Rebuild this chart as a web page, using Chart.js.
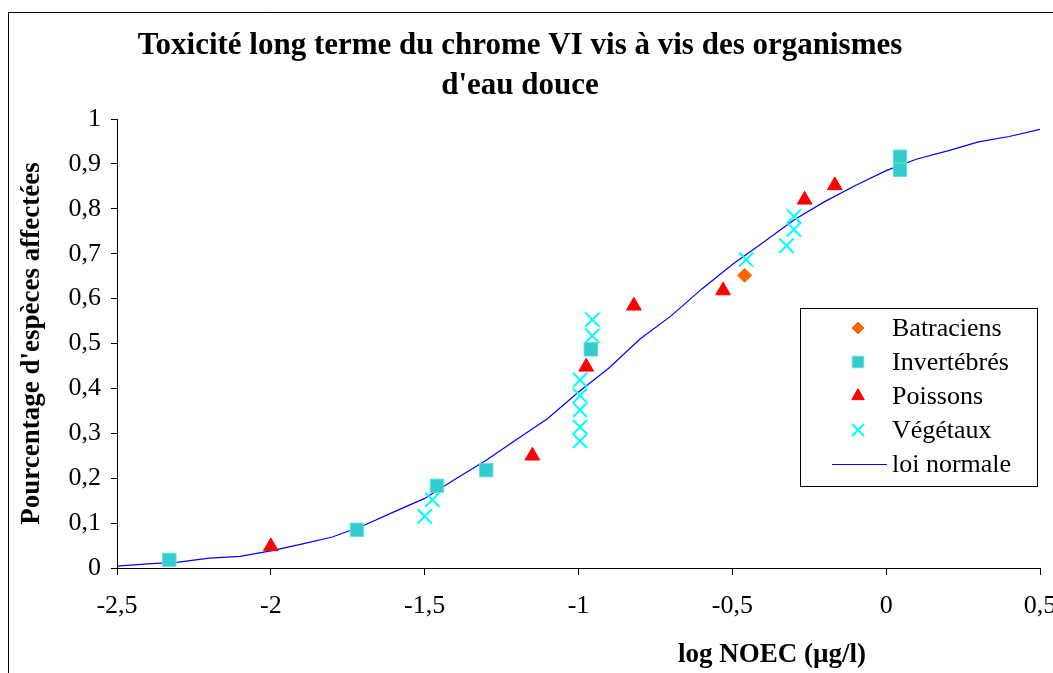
<!DOCTYPE html>
<html lang="fr">
<head>
<meta charset="utf-8">
<title>Toxicité long terme du chrome VI</title>
<script src="https://cdn.jsdelivr.net/npm/chart.js@4.4.1/dist/chart.umd.min.js"></script>
<style>
  html, body { margin: 0; padding: 0; background: #fff; }
  #wrap { width: 1053px; height: 673px; position: relative; }
</style>
</head>
<body>
<div id="wrap"><canvas id="chart"></canvas></div>
<script>
const SERIF = '"Liberation Serif", "Times New Roman", serif';

const xTickLabels = ['-2,5', '-2', '-1,5', '-1', '-0,5', '0', '0,5'];
const yTickLabels = ['0', '0,1', '0,2', '0,3', '0,4', '0,5', '0,6', '0,7', '0,8', '0,9', '1'];

const batraciensX = [-0.46];
const batraciensY = [0.652];

const invertebresX = [-2.33, -1.72, -1.46, -1.30, -0.96, 0.045, 0.045];
const invertebresY = [0.018, 0.085, 0.183, 0.218, 0.487, 0.916, 0.887];

const poissonsX = [-2.0, -1.15, -0.975, -0.82, -0.53, -0.265, -0.167];
const poissonsY = [0.048, 0.25, 0.448, 0.584, 0.618, 0.82, 0.852];

const vegetauxX = [-1.50, -1.475, -0.995, -0.995, -0.995, -0.995, -0.995, -0.955, -0.955, -0.455, -0.324, -0.30, -0.30];
const vegetauxY = [0.115, 0.152, 0.283, 0.314, 0.352, 0.384, 0.419, 0.517, 0.553, 0.687, 0.718, 0.754, 0.783];

const loiX = [-2.5, -2.4, -2.3, -2.2, -2.1, -2.0, -1.9, -1.8, -1.7, -1.6, -1.5, -1.4, -1.3, -1.2, -1.1, -1.0,
              -0.9, -0.8, -0.7, -0.6, -0.5, -0.4, -0.3, -0.2, -0.1, 0, 0.1, 0.2, 0.3, 0.4, 0.5];
const loiY = [0.004, 0.009, 0.013, 0.022, 0.026, 0.038, 0.053, 0.069, 0.094, 0.125, 0.155, 0.198, 0.240, 0.287, 0.333, 0.392,
              0.446, 0.510, 0.561, 0.621, 0.676, 0.725, 0.775, 0.816, 0.852, 0.885, 0.911, 0.929, 0.949, 0.961, 0.977];

function pts(xs, ys) {
  return xs.map((x, i) => ({ x: x, y: ys[i] }));
}

// white page + the Excel chart frame (cut on the right and bottom)
const framePlugin = {
  id: 'frame',
  beforeDraw(chart) {
    const ctx = chart.ctx;
    ctx.save();
    ctx.fillStyle = '#fff';
    ctx.fillRect(0, 0, chart.width, chart.height);
    ctx.strokeStyle = '#000';
    ctx.lineWidth = 1;
    ctx.beginPath();
    ctx.moveTo(8.5, chart.height);
    ctx.lineTo(8.5, 12.5);
    ctx.lineTo(chart.width, 12.5);
    ctx.stroke();
    ctx.restore();
  }
};

// x axis title sits right of centre in the original, so draw it by hand
const xTitlePlugin = {
  id: 'xTitle',
  afterDraw(chart) {
    const ctx = chart.ctx;
    const area = chart.chartArea;
    ctx.save();
    ctx.fillStyle = '#000';
    ctx.font = 'bold 27px ' + SERIF;
    ctx.textAlign = 'center';
    ctx.textBaseline = 'middle';
    ctx.fillText('log NOEC (µg/l)', area.left + 655, 655);
    ctx.restore();
  }
};

// boxed legend inside the plot, like Excel
const boxLegend = {
  id: 'boxLegend',
  afterDraw(chart) {
    const ctx = chart.ctx;
    const area = chart.chartArea;
    const left = area.right - 240;
    const top = area.top + 189;
    const w = 237, h = 178;
    ctx.save();
    ctx.fillStyle = '#fff';
    ctx.fillRect(left, top, w, h);
    ctx.strokeStyle = '#000';
    ctx.lineWidth = 1;
    ctx.strokeRect(left + 0.5, top + 0.5, w, h);

    ctx.font = '26px ' + SERIF;
    ctx.textBaseline = 'middle';
    chart.data.datasets.forEach((ds, i) => {
      const y = top + 20 + i * 34;
      ctx.fillStyle = ds.backgroundColor;
      ctx.strokeStyle = ds.borderColor;
      if (ds.showLine) {
        ctx.lineWidth = ds.borderWidth;
        ctx.beginPath();
        ctx.moveTo(left + 32, y + 0.5);
        ctx.lineTo(left + 87, y + 0.5);
        ctx.stroke();
      } else {
        ctx.lineWidth = ds.borderWidth;
        Chart.helpers.drawPoint(ctx, {
          pointStyle: ds.pointStyle,
          radius: ds.pointRadius * 0.85,
          rotation: 0,
          borderWidth: ds.borderWidth
        }, left + 58, y);
      }
      ctx.fillStyle = '#000';
      ctx.fillText(ds.label, left + 92, y + 1);
    });
    ctx.restore();
  }
};

const ctx = document.getElementById('chart').getContext('2d');
new Chart(ctx, {
  type: 'scatter',
  data: {
    datasets: [
      {
        label: 'Batraciens',
        data: pts(batraciensX, batraciensY),
        pointStyle: 'rectRot',
        pointRadius: 7,
        backgroundColor: '#FF6600',
        borderColor: '#FF6600',
        borderWidth: 1
      },
      {
        label: 'Invertébrés',
        data: pts(invertebresX, invertebresY),
        pointStyle: 'rect',
        pointRadius: 9.5,
        backgroundColor: '#33CCCC',
        borderColor: '#66DDDD',
        borderWidth: 1
      },
      {
        label: 'Poissons',
        data: pts(poissonsX, poissonsY),
        pointStyle: 'triangle',
        pointRadius: 8.5,
        backgroundColor: '#FF0000',
        borderColor: '#FF0000',
        borderWidth: 1
      },
      {
        label: 'Végétaux',
        data: pts(vegetauxX, vegetauxY),
        pointStyle: 'crossRot',
        pointRadius: 10,
        backgroundColor: '#00FFFF',
        borderColor: '#00FFFF',
        borderWidth: 2
      },
      {
        label: 'loi normale',
        data: pts(loiX, loiY),
        showLine: true,
        pointRadius: 0,
        borderColor: '#0000FF',
        backgroundColor: '#0000FF',
        borderWidth: 1.2,
        tension: 0
      }
    ]
  },
  options: {
    responsive: true,
    maintainAspectRatio: false,
    animation: false,
    layout: { padding: { left: 0, right: 13, top: 0, bottom: 0 } },
    plugins: {
      legend: { display: false },
      tooltip: { enabled: false },
      title: {
        display: true,
        text: ['Toxicité long terme du chrome VI vis à vis des organismes', "d'eau douce"],
        color: '#000',
        font: { family: SERIF, size: 31, weight: 'bold', lineHeight: 40 / 31 },
        padding: { top: 26, bottom: 13 }
      }
    },
    scales: {
      x: {
        type: 'linear',
        min: -2.5,
        max: 0.5,
        border: { display: true, color: '#000', width: 1 },
        grid: { drawOnChartArea: false, drawTicks: true, tickLength: 7, color: '#000' },
        ticks: {
          stepSize: 0.5,
          color: '#000',
          padding: 16,
          maxRotation: 0,
          font: { family: SERIF, size: 26 },
          callback: (v, i) => xTickLabels[i]
        },
        afterFit: (s) => { s.height = 105; s.paddingLeft = 0; s.paddingRight = 0; }
      },
      y: {
        type: 'linear',
        min: 0,
        max: 1,
        border: { display: true, color: '#000', width: 1 },
        grid: { drawOnChartArea: false, drawTicks: true, tickLength: 6, color: '#000' },
        ticks: {
          stepSize: 0.1,
          color: '#000',
          padding: 10,
          font: { family: SERIF, size: 26 },
          callback: (v, i) => yTickLabels[i]
        },
        title: {
          display: true,
          text: "Pourcentage d'espèces affectées",
          color: '#000',
          font: { family: SERIF, size: 27, weight: 'bold' },
          padding: { top: 16, bottom: 0 }
        },
        afterFit: (s) => { s.width = 117; s.paddingTop = 0; s.paddingBottom = 0; }
      }
    }
  },
  plugins: [framePlugin, xTitlePlugin, boxLegend]
});
</script>
</body>
</html>
